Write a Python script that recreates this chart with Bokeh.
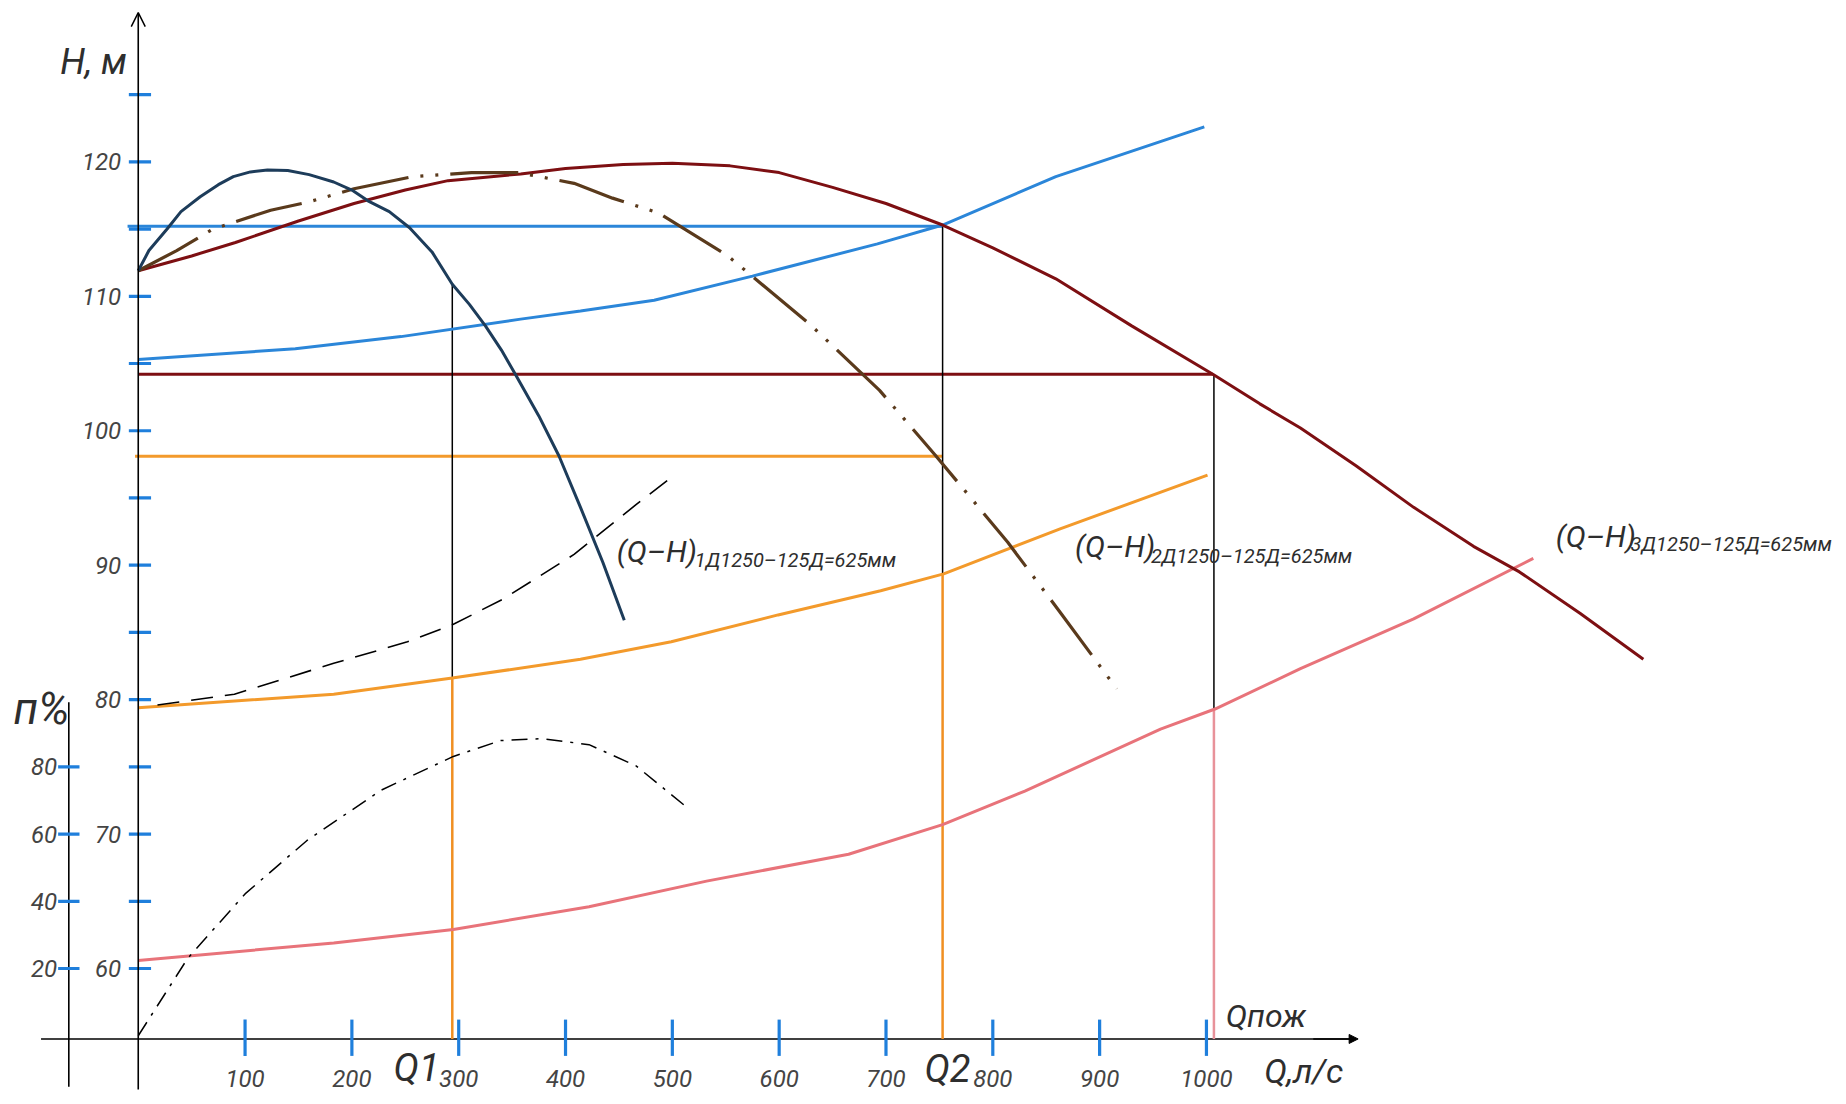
from bokeh.plotting import figure
from bokeh.models import Range1d, Arrow, OpenHead, NormalHead
from bokeh.core.properties import value
from bokeh.embed import file_html
from bokeh.resources import INLINE

FONT = "Roboto"

# ---------------- data (Q in l/s, H in m, eta in %) ----------------
# (Q-H)1 pump curve
qh1_q = [0, 10, 27, 40, 58, 75, 89, 105, 121, 140, 160, 183, 200, 215, 235, 254, 275, 294, 310, 325, 340, 353, 375, 394, 414, 435, 455]
qh1_h = [111.9, 113.4, 115.0, 116.3, 117.4, 118.3, 118.9, 119.25, 119.4, 119.35, 119.05, 118.5, 117.9, 117.1, 116.3, 115.1, 113.3, 110.9, 109.4, 107.8, 106.0, 104.2, 101.1, 98.1, 94.3, 90.2, 85.9]

# (Q-H)2 pump curve (dash-dot-dot)
qh2_q = [0, 36, 70, 124, 159, 202, 257, 312, 356, 408, 444, 487, 552, 629, 694, 746, 814, 863, 916]
qh2_h = [111.9, 113.4, 115.0, 116.4, 117.0, 118.0, 118.9, 119.2, 119.2, 118.4, 117.3, 116.2, 113.0, 107.9, 103.0, 98.2, 91.7, 86.5, 80.8]

# (Q-H)3 pump curve
qh3_q = [0, 50, 91, 150, 202, 250, 290, 358, 400, 454, 500, 554, 600, 650, 700, 753, 800, 859, 930, 1006, 1050, 1088, 1140, 1194, 1250, 1293, 1350, 1409]
qh3_h = [111.9, 113.0, 114.0, 115.6, 116.9, 117.9, 118.6, 119.1, 119.5, 119.8, 119.9, 119.7, 119.2, 118.1, 116.9, 115.3, 113.6, 111.3, 107.8, 104.2, 102.0, 100.2, 97.4, 94.3, 91.4, 89.5, 86.4, 83.0]

# pipeline characteristics
sys_blue_q = [0, 147, 246, 358, 414, 483, 575, 692, 753, 859, 998]
sys_blue_h = [105.3, 106.1, 107.0, 108.3, 108.9, 109.7, 111.5, 113.9, 115.3, 118.9, 122.6]

sys_orange_q = [0, 183, 294, 414, 499, 599, 695, 754, 863, 1001]
sys_orange_h = [79.4, 80.4, 81.6, 83.0, 84.3, 86.3, 88.1, 89.35, 92.7, 96.7]

sys_pink_q = [0, 183, 295, 422, 532, 665, 753, 830, 957, 1008, 1088, 1194, 1306]
sys_pink_h = [60.6, 61.9, 62.9, 64.6, 66.5, 68.5, 70.7, 73.2, 77.8, 79.3, 82.3, 86.0, 90.5]

# dashed curve
dash_q = [18, 90, 183, 252, 295, 342, 408, 466, 502]
dash_h = [79.6, 80.4, 82.7, 84.3, 85.6, 87.5, 90.8, 94.5, 96.7]

# efficiency curve (eta, %)
eta_q = [0, 46, 100, 158, 227, 295, 339, 378, 422, 466, 513]
eta_v = [0, 22.9, 42.2, 58.1, 73.0, 83.1, 87.8, 88.4, 86.6, 80.3, 68.1]

# operating points
op_q = [294, 753, 1007]            # Q1, Q2, Qпож
op_top_h = [110.9, 115.3, 104.2]  # on pump curves
op_mid_h = [81.6, 89.35, 79.3]    # on lower system curves
h_levels = [115.2, 104.2, 98.1]   # horizontal levels (blue, dark red, orange)
h_level_end = [753, 1006, 753]

# axes / ticks
H_BASE = 54.76  # H at the Q axis
h_ticks = [60, 65, 70, 75, 80, 85, 90, 95, 100, 105, 110, 115, 120, 125]
h_label_vals = [120, 110, 100, 90, 80, 70, 60]
eta_ticks = [20, 40, 60, 80]
q_ticks = [100, 200, 300, 400, 500, 600, 700, 800, 900, 1000]

# ---------------- figure ----------------
p = figure(width=1838, height=1096,
           x_range=Range1d(-128.95, 1591.7), y_range=Range1d(50.48, 132.0),
           output_backend="svg", toolbar_location=None, min_border=0,
           x_axis_location=None, y_axis_location=None, outline_line_color=None)
p.extra_y_ranges = {"eta": Range1d(4 * (50.48 - 55), 4 * (132.0 - 55))}
p.background_fill_color = "white"
p.border_fill_color = "white"
p.xgrid.grid_line_color = None
p.ygrid.grid_line_color = None

TICK_BLUE = "#1f7fdc"
TXT = "#2e2e2e"

# axis lines
p.segment(x0=[-91], y0=[H_BASE], x1=[1138], y1=[H_BASE], line_color="black", line_width=1.6)
p.add_layout(Arrow(end=NormalHead(size=9, fill_color="black", line_color="black"),
                   x_start=1100, y_start=H_BASE, x_end=1142, y_end=H_BASE,
                   line_color="black", line_width=1.6))
p.add_layout(Arrow(end=OpenHead(size=14, line_width=1.5, line_color="black"),
                   x_start=0, y_start=51.0, x_end=0, y_end=131.1,
                   line_color="black", line_width=1.6))
p.segment(x0=[-65], y0=[51.2], x1=[-65], y1=[79.8], line_color="black", line_width=1.6)

# ticks
p.segment(x0=[-8.8] * len(h_ticks), y0=h_ticks, x1=[12] * len(h_ticks), y1=h_ticks,
          line_color=TICK_BLUE, line_width=3.2)
p.segment(x0=[-75] * len(eta_ticks), y0=eta_ticks, x1=[-55] * len(eta_ticks), y1=eta_ticks,
          line_color=TICK_BLUE, line_width=3.2, y_range_name="eta")
p.segment(x0=q_ticks, y0=[56.2] * len(q_ticks), x1=q_ticks, y1=[53.5] * len(q_ticks),
          line_color=TICK_BLUE, line_width=3.2)

# horizontal levels
p.line([-10, h_level_end[0]], [h_levels[0]] * 2, line_color="#2b86d9", line_width=3)
p.line([0, h_level_end[1]], [h_levels[1]] * 2, line_color="#7d0f12", line_width=3)
p.line([-3, h_level_end[2]], [h_levels[2]] * 2, line_color="#f39a2b", line_width=3)

# vertical construction lines
p.segment(x0=op_q, y0=op_top_h, x1=op_q, y1=op_mid_h, line_color="black", line_width=1.5)
p.segment(x0=op_q[:2], y0=op_mid_h[:2], x1=op_q[:2], y1=[H_BASE] * 2, line_color="#f08f22", line_width=2.5)
p.segment(x0=[op_q[2]], y0=[op_mid_h[2]], x1=[op_q[2]], y1=[H_BASE], line_color="#e8929a", line_width=2.5)

# curves
p.line(sys_blue_q, sys_blue_h, line_color="#2b86d9", line_width=3)
p.line(sys_orange_q, sys_orange_h, line_color="#f39a2b", line_width=3)
p.line(sys_pink_q, sys_pink_h, line_color="#e8737a", line_width=3)
p.line(qh3_q, qh3_h, line_color="#7d0f12", line_width=3)
p.line(qh2_q, qh2_h, line_color="#5a3a1c", line_width=3.2, line_dash="68 12 3 12 3 12")
p.line(qh1_q, qh1_h, line_color="#1d3c5a", line_width=3)
p.line(dash_q, dash_h, line_color="black", line_width=1.6, line_dash="22 12")
p.line(eta_q, eta_v, line_color="black", line_width=1.5, line_dash="16 8 3 8", y_range_name="eta")

# tick labels
TL = "24px"
p.text(x=[-16] * len(h_label_vals), y=h_label_vals, text=[str(v) for v in h_label_vals],
       text_font=value(FONT), text_font_style="italic", text_font_size=TL,
       text_align="right", text_baseline="middle", text_color="#444444")
p.text(x=[-76] * len(eta_ticks), y=eta_ticks, text=[str(v) for v in eta_ticks],
       text_font=value(FONT), text_font_style="italic", text_font_size=TL,
       text_align="right", text_baseline="middle", text_color="#444444", y_range_name="eta")
p.text(x=q_ticks, y=[51.8] * len(q_ticks), text=[str(v) for v in q_ticks],
       text_font=value(FONT), text_font_style="italic", text_font_size=TL,
       text_align="center", text_baseline="middle", text_color="#444444")

# axis titles & point labels
def lbl(x, y, t, size, align="left"):
    p.text(x=[x], y=[y], text=[t], text_font=value(FONT), text_font_style="italic",
           text_font_size=size, text_align=align, text_baseline="middle", text_color=TXT)

lbl(-73, 127.4, "Н, м", "36px")
lbl(-116.8, 79.3, "п%", "44px")
lbl(239, 52.6, "Q1", "38px")
lbl(736, 52.5, "Q2", "38px")
lbl(1018, 56.5, "Qпож", "32px")
lbl(1054, 52.4, "Q,л/с", "34px")

# curve labels
lbl(448, 91.0, "(Q–H)", "30px")
lbl(521, 90.4, "1Д1250–125Д=625мм", "20px")
lbl(877, 91.4, "(Q–H)", "30px")
lbl(948, 90.7, "2Д1250–125Д=625мм", "20px")
lbl(1327, 92.1, "(Q–H)", "30px")
lbl(1397, 91.6, "3Д1250–125Д=625мм", "20px")

open("out.html", "w").write(file_html(p, INLINE))
